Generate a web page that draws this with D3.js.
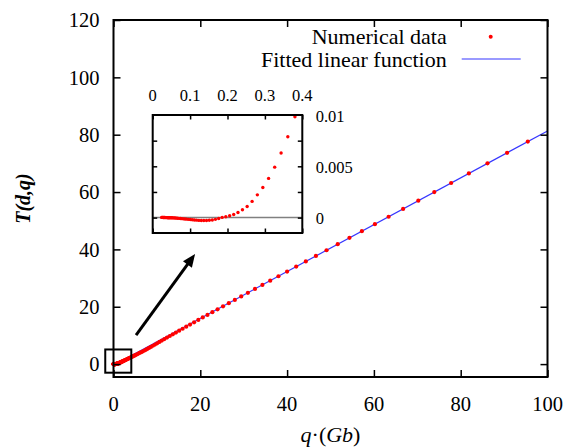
<!DOCTYPE html>
<html><head><meta charset="utf-8">
<script src="https://cdn.jsdelivr.net/npm/d3@7"></script>
<style>
body{margin:0;background:#fff}
svg{display:block}
text{font-family:"Liberation Serif","Times New Roman",serif;fill:#000}
</style>
</head><body>
<svg id="c" width="571" height="447"></svg>
<script>
// ---- data ----
const qValues = [
0.0240,0.02526,0.02659,0.02798,0.02945,0.03100,0.03263,0.03434,0.03614,0.03804,
0.04003,0.04213,0.04435,0.04667,0.04912,0.05170,0.05442,0.05727,0.06028,0.06345,
0.06677,0.07028,0.07397,0.07785,0.08193,0.08624,0.09077,0.09553,0.1005,0.1058,
0.1114,0.1172,0.1234,0.1299,0.1367,0.1439,0.1514,0.1594,0.1677,0.1765,
0.1858,0.1955,0.2058,0.2166,0.2280,0.2400,0.2525,0.2658,0.2798,0.2945,
0.3099,0.3262,0.3433,0.3613,0.3803,0.4002,0.4213,0.4434,0.4667,0.4912,
0.5169,0.5440,0.5726,0.6026,0.6343,0.6676,0.7027,0.7396,0.7784,0.8193,
0.8622,0.9074,0.9551,1.005,1.058,1.114,1.172,1.234,1.298,1.367,
1.438,1.514,1.593,1.677,1.765,1.857,1.955,2.058,2.166,2.279,
2.399,2.525,2.657,2.797,2.943,3.098,3.261,3.432,3.612,3.802,
4.001,4.211,4.433,4.665,4.910,5.168,5.439,5.725,6.025,6.342,
6.674,7.024,7.393,7.781,8.190,8.620,9.072,9.549,10.05,10.58,
11.13,11.72,12.33,12.98,13.66,14.38,15.13,15.93,16.76,17.64,
18.57,19.54,20.57,21.65,22.78,23.98,25.24,26.57,27.96,29.43,
30.97,32.60,34.31,36.11,38.01,40.00,42.10,44.31,46.64,49.09,
51.66,54.37,57.23,60.23,63.39,66.73,70.23,73.92,77.80,81.88,
86.17,90.69,95.46
];
const tValues = [
0.00002,0.00002,0.00002,0.00001,0.00001,0.00001,0.00001,0,0,0,
-0.00001,-0.00001,-0.00001,-0.00002,-0.00002,-0.00002,-0.00003,-0.00003,-0.00004,-0.00005,
-0.00006,-0.00007,-0.00008,-0.0001,-0.00012,-0.00013,-0.00015,-0.00017,-0.00019,-0.00021,
-0.00023,-0.00025,-0.00027,-0.00028,-0.00028,-0.00028,-0.00026,-0.00023,-0.00017,-0.00009,
0.00002,0.00008,0.00018,0.0003,0.0005,0.00077,0.00108,0.00158,0.00222,0.00294,
0.00382,0.00492,0.00629,0.00788,0.00983,0.0122,0.0148,0.018,0.0218,0.0262,
0.031,0.037,0.044,0.052,0.061,0.071,0.083,0.096,0.111,0.128,
0.147,0.168,0.192,0.219,0.248,0.28,0.315,0.353,0.394,0.439,
0.487,0.539,0.594,0.653,0.716,0.782,0.852,0.926,1.004,1.086,
1.173,1.265,1.361,1.463,1.57,1.684,1.804,1.931,2.065,2.207,
2.356,2.513,2.679,2.854,3.038,3.233,3.438,3.654,3.882,4.123,
4.373,4.649,4.95,5.277,5.631,6.003,6.402,6.822,7.261,7.724,
8.203,8.715,9.244,9.805,10.39,11.008,11.651,12.335,13.043,13.792,
14.58,15.39,16.26,17.16,18.1,19.1,20.15,21.25,22.39,23.6,
24.87,26.21,27.61,29.09,30.64,32.28,34.0,35.8,37.71,39.71,
41.81,44.02,46.36,48.81,51.39,54.12,56.98,59.99,63.16,66.5,
70.0,73.69,77.59
];
const fitSlope = 0.817;
const fitIntercept = -0.4;
const fitRange = [0, 100];

const xTickValues = [0, 20, 40, 60, 80, 100];
const yTickValues = [0, 20, 40, 60, 80, 100, 120];
const insetXTickValues = [0, 0.1, 0.2, 0.3, 0.4];
const insetXTickLabels = ["0", "0.1", "0.2", "0.3", "0.4"];
const insetYTickValues = [0, 0.0025, 0.005, 0.0075];
const insetYLabelValues = [0, 0.005, 0.01];
const insetYTickLabels = ["0", "0.005", "0.01"];
const legendLabels = ["Numerical data", "Fitted linear function"];
const zoomBox = {q0: -1.9, q1: 4.1, t0: -3.0, t1: 5.1};
const arrowFrom = {q: 5.2, t: 10.1};
const arrowTo = {q: 18.8, t: 38.4};

// ---- drawing ----
const data = qValues.map((q, i) => ({q, t: tValues[i]}));
const svg = d3.select("#c");
const RED = "#ff0000", BLUE = "#3636ff";

const M = {left: 113.5, right: 547.5, top: 20, bottom: 377};
const x = d3.scaleLinear().domain([0, 100]).range([M.left, M.right]);
const y = d3.scaleLinear().domain([-4.5, 120]).range([M.bottom, M.top]);

svg.append("clipPath").attr("id", "mainClip").append("rect")
  .attr("x", M.left).attr("y", M.top).attr("width", M.right - M.left).attr("height", M.bottom - M.top);

// fitted line
svg.append("line").attr("clip-path", "url(#mainClip)")
  .attr("x1", x(fitRange[0])).attr("y1", y(fitSlope * fitRange[0] + fitIntercept))
  .attr("x2", x(fitRange[1])).attr("y2", y(fitSlope * fitRange[1] + fitIntercept))
  .attr("stroke", BLUE).attr("stroke-width", 1.2);

// points
svg.append("g").selectAll("circle").data(data).join("circle")
  .attr("cx", d => x(d.q)).attr("cy", d => y(d.t)).attr("r", 2.1).attr("fill", RED);

// axes (ticks inward, mirrored)
const fs = 20.5;
const tickLen = 7;
svg.append("g").attr("transform", `translate(0,${M.bottom})`)
  .call(d3.axisBottom(x).tickValues(xTickValues).tickSizeInner(-tickLen).tickSizeOuter(0).tickPadding(0).tickFormat(""))
  .call(g => { g.select(".domain").remove(); g.selectAll("line").attr("stroke", "#000").attr("stroke-width", 1.5); });
svg.append("g").attr("transform", `translate(0,${M.top})`)
  .call(d3.axisTop(x).tickValues(xTickValues).tickSizeInner(-tickLen).tickSizeOuter(0).tickFormat(""))
  .call(g => { g.select(".domain").remove(); g.selectAll("line").attr("stroke", "#000").attr("stroke-width", 1.5); });
svg.append("g").attr("transform", `translate(${M.left},0)`)
  .call(d3.axisLeft(y).tickValues(yTickValues).tickSizeInner(-tickLen).tickSizeOuter(0).tickFormat(""))
  .call(g => { g.select(".domain").remove(); g.selectAll("line").attr("stroke", "#000").attr("stroke-width", 1.5); });
svg.append("g").attr("transform", `translate(${M.right},0)`)
  .call(d3.axisRight(y).tickValues(yTickValues).tickSizeInner(-tickLen).tickSizeOuter(0).tickFormat(""))
  .call(g => { g.select(".domain").remove(); g.selectAll("line").attr("stroke", "#000").attr("stroke-width", 1.5); });

// tick labels
svg.append("g").selectAll("text").data(xTickValues).join("text")
  .attr("x", d => x(d)).attr("y", 411).attr("text-anchor", "middle")
  .attr("font-size", fs).text(d => d);
svg.append("g").selectAll("text").data(yTickValues).join("text")
  .attr("x", 99.5).attr("y", d => y(d)).attr("dy", "0.35em").attr("text-anchor", "end")
  .attr("font-size", fs).text(d => d);

// frame
svg.append("rect").attr("x", M.left).attr("y", M.top)
  .attr("width", M.right - M.left).attr("height", M.bottom - M.top)
  .attr("fill", "none").attr("stroke", "#000").attr("stroke-width", 2);

// axis titles
const xl = svg.append("text").attr("x", (M.left + M.right) / 2).attr("y", 442)
  .attr("text-anchor", "middle").attr("font-size", 22);
xl.append("tspan").attr("font-style", "italic").text("q");
xl.append("tspan").text("·(");
xl.append("tspan").attr("font-style", "italic").text("Gb");
xl.append("tspan").text(")");

const yl = svg.append("text").attr("transform", `translate(30,${(M.top + M.bottom) / 2}) rotate(-90)`)
  .attr("text-anchor", "middle").attr("font-size", 20).attr("font-weight", "bold").attr("font-style", "italic");
yl.text("T(d,q)");

// legend
const legY = [36.7, 60];
svg.append("g").selectAll("text").data(legendLabels).join("text")
  .attr("x", 446.7).attr("y", (d, i) => legY[i]).attr("dy", "0.33em")
  .attr("text-anchor", "end").attr("font-size", 22).text(d => d);
svg.append("circle").attr("cx", 490.7).attr("cy", legY[0]).attr("r", 2).attr("fill", RED);
svg.append("line").attr("x1", 461.7).attr("x2", 520.7).attr("y1", legY[1] - 1).attr("y2", legY[1] - 1)
  .attr("stroke", BLUE).attr("stroke-width", 1.2);

// zoom box and arrow
svg.append("rect")
  .attr("x", x(zoomBox.q0)).attr("y", y(zoomBox.t1))
  .attr("width", x(zoomBox.q1) - x(zoomBox.q0)).attr("height", y(zoomBox.t0) - y(zoomBox.t1))
  .attr("fill", "none").attr("stroke", "#000").attr("stroke-width", 2);
{
  const x1 = x(arrowFrom.q), y1 = y(arrowFrom.t), x2 = x(arrowTo.q), y2 = y(arrowTo.t);
  const ang = Math.atan2(y2 - y1, x2 - x1);
  const hl = 13, hw = 5.5;
  const bx = x2 - hl * Math.cos(ang), by = y2 - hl * Math.sin(ang);
  svg.append("line").attr("x1", x1).attr("y1", y1).attr("x2", bx + 2 * Math.cos(ang)).attr("y2", by + 2 * Math.sin(ang))
    .attr("stroke", "#000").attr("stroke-width", 3);
  const px = -Math.sin(ang), py = Math.cos(ang);
  svg.append("path").attr("d", `M${x2},${y2}L${bx + hw * px},${by + hw * py}L${bx - hw * px},${by - hw * py}Z`)
    .attr("fill", "#000");
}

// ---- inset ----
const I = {left: 152.7, right: 302.3, top: 115, bottom: 233};
const ix = d3.scaleLinear().domain([0, 0.4]).range([I.left, I.right]);
const iy = d3.scaleLinear().domain([-0.0015, 0.01]).range([I.bottom, I.top]);
svg.append("rect").attr("x", I.left).attr("y", I.top).attr("width", I.right - I.left).attr("height", I.bottom - I.top)
  .attr("fill", "#fff");
svg.append("clipPath").attr("id", "insetClip").append("rect")
  .attr("x", I.left).attr("y", I.top - 2).attr("width", I.right - I.left).attr("height", I.bottom - I.top + 2);

// zero axis
svg.append("line").attr("x1", I.left).attr("x2", I.right).attr("y1", iy(0)).attr("y2", iy(0))
  .attr("stroke", "#808080").attr("stroke-width", 1.5);

const iTick = 4.5;
svg.append("g").attr("transform", `translate(0,${I.bottom})`)
  .call(d3.axisBottom(ix).tickValues(insetXTickValues).tickSizeInner(-iTick).tickSizeOuter(0).tickFormat(""))
  .call(g => { g.select(".domain").remove(); g.selectAll("line").attr("stroke", "#000").attr("stroke-width", 1.5); });
svg.append("g").attr("transform", `translate(0,${I.top})`)
  .call(d3.axisTop(ix).tickValues(insetXTickValues).tickSizeInner(-iTick).tickSizeOuter(0).tickFormat(""))
  .call(g => { g.select(".domain").remove(); g.selectAll("line").attr("stroke", "#000").attr("stroke-width", 1.5); });
svg.append("g").attr("transform", `translate(${I.left},0)`)
  .call(d3.axisLeft(iy).tickValues(insetYTickValues).tickSizeInner(-iTick).tickSizeOuter(0).tickFormat(""))
  .call(g => { g.select(".domain").remove(); g.selectAll("line").attr("stroke", "#000").attr("stroke-width", 1.5); });
svg.append("g").attr("transform", `translate(${I.right},0)`)
  .call(d3.axisRight(iy).tickValues(insetYTickValues).tickSizeInner(-iTick).tickSizeOuter(0).tickFormat(""))
  .call(g => { g.select(".domain").remove(); g.selectAll("line").attr("stroke", "#000").attr("stroke-width", 1.5); });

svg.append("g").attr("clip-path", "url(#insetClip)").selectAll("circle")
  .data(data.filter(d => d.q <= 0.4)).join("circle")
  .attr("cx", d => ix(d.q)).attr("cy", d => iy(d.t)).attr("r", 1.7).attr("fill", RED);

svg.append("rect").attr("x", I.left).attr("y", I.top).attr("width", I.right - I.left).attr("height", I.bottom - I.top)
  .attr("fill", "none").attr("stroke", "#000").attr("stroke-width", 2);

const ifs = 16.5;
svg.append("g").selectAll("text").data(insetXTickValues).join("text")
  .attr("x", d => ix(d)).attr("y", 100.7).attr("text-anchor", "middle")
  .attr("font-size", ifs).text((d, i) => insetXTickLabels[i]);
svg.append("g").selectAll("text").data(insetYLabelValues).join("text")
  .attr("x", 315.7).attr("y", d => iy(d) + 1).attr("dy", "0.35em").attr("text-anchor", "start")
  .attr("font-size", ifs).text((d, i) => insetYTickLabels[i]);
</script>
</body></html>
